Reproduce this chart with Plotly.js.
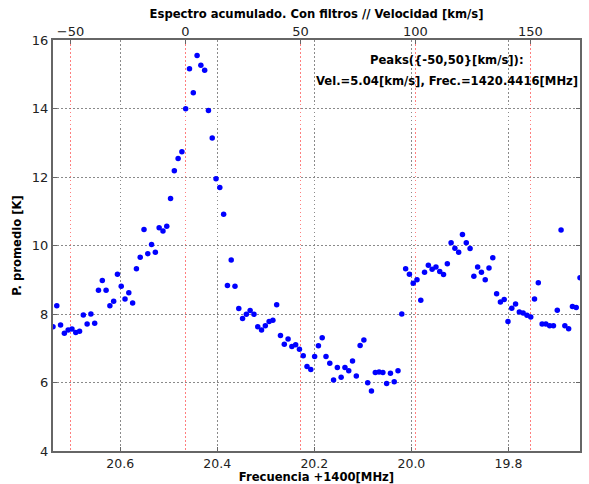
<!DOCTYPE html>
<html>
<head>
<meta charset="utf-8">
<script src="https://cdn.plot.ly/plotly-3.0.1.min.js"></script>
<style>html,body{margin:0;padding:0;background:#fff;}#chart{width:589px;height:484px;}</style>
</head>
<body>
<div id="chart"></div>
<script>
// Frequency (+1400 MHz) of each channel
const freq = [
20.7385,20.7307,20.7229,20.7151,20.7073,20.6994,20.6916,20.6838,20.6760,20.6682,
20.6604,20.6526,20.6448,20.6369,20.6291,20.6213,20.6135,20.6057,20.5979,20.5901,
20.5823,20.5744,20.5666,20.5588,20.5510,20.5432,20.5354,20.5276,20.5198,20.5119,
20.5041,20.4963,20.4885,20.4807,20.4729,20.4651,20.4573,20.4494,20.4416,20.4338,
20.4260,20.4182,20.4104,20.4026,20.3948,20.3869,20.3791,20.3713,20.3635,20.3557,
20.3479,20.3401,20.3323,20.3244,20.3166,20.3088,20.3010,20.2932,20.2854,20.2776,
20.2698,20.2619,20.2541,20.2463,20.2385,20.2307,20.2229,20.2151,20.2073,20.1994,
20.1916,20.1838,20.1760,20.1682,20.1604,20.1526,20.1448,20.1369,20.1291,20.1213,
20.1135,20.1057,20.0979,20.0901,20.0823,20.0744,20.0666,20.0588,20.0510,20.0432,
20.0354,20.0276,20.0198,20.0119,20.0041,19.9963,19.9885,19.9807,19.9729,19.9651,
19.9573,19.9494,19.9416,19.9338,19.9260,19.9182,19.9104,19.9026,19.8948,19.8869,
19.8791,19.8713,19.8635,19.8557,19.8479,19.8401,19.8323,19.8244,19.8166,19.8088,
19.8010,19.7932,19.7854,19.7776,19.7698,19.7619,19.7541,19.7463,19.7385,19.7307,
19.7229,19.7151,19.7073,19.6994,19.6916,19.6838,19.6760,19.6682,19.6604,19.6526
];
// Mean power [K]
const power = [
7.63,8.24,7.68,7.44,7.53,7.56,7.46,7.50,7.97,7.71,
8.00,7.73,8.69,8.98,8.69,8.24,8.37,9.16,8.81,8.44,
8.62,8.32,9.32,9.66,10.47,9.76,10.03,9.80,10.52,10.42,
10.56,11.37,12.18,12.54,12.74,13.99,15.16,14.46,15.55,15.26,
15.12,13.94,13.14,11.95,11.69,10.91,8.83,9.58,8.81,8.16,
7.87,7.99,8.10,7.99,7.63,7.53,7.66,7.78,7.82,8.27,
7.37,7.12,7.27,7.05,7.10,6.97,6.78,6.47,6.38,6.76,
7.07,7.31,6.76,6.56,6.07,6.44,6.15,6.44,6.34,6.63,
6.19,7.08,7.24,5.99,5.75,6.29,6.31,6.29,5.97,6.27,
6.02,6.34,8.00,9.32,9.16,8.90,9.00,8.40,9.22,9.42,
9.31,9.37,9.24,9.15,9.47,10.08,9.92,9.80,10.32,10.08,
9.91,9.10,9.37,9.22,9.00,9.34,9.64,8.59,8.35,8.42,
7.78,8.17,8.29,8.06,8.03,7.96,7.91,8.44,8.91,7.71,
7.71,7.66,7.66,8.11,10.45,7.66,7.57,8.22,8.19,9.06
];
const freqTickVals = [20.6, 20.4, 20.2, 20.0, 19.8];
const freqTickText = ['20.6', '20.4', '20.2', '20.0', '19.8'];
const velTickVals = [-50, 0, 50, 100, 150];
const powerTickVals = [4, 6, 8, 10, 12, 14, 16];
const peakLines = ['Peaks({-50,50}[km/s]):', 'Vel.=5.04[km/s], Frec.=1420.4416[MHz]'];

const FONT = 'DejaVu Sans, sans-serif';
const GRAYDASH = '1.5px,2.5px';

const trace = {
  x: freq, y: power, type: 'scatter', mode: 'markers',
  marker: {color: '#0000ff', size: 5.5, line: {width: 0}},
  xaxis: 'x', yaxis: 'y', hoverinfo: 'skip', cliponaxis: true
};
// invisible helper trace to activate the top velocity axis
const helper = {
  x: [0], y: [10], type: 'scatter', mode: 'markers',
  marker: {opacity: 0}, xaxis: 'x2', yaxis: 'y', hoverinfo: 'skip', showlegend: false
};

const layout = {
  width: 589, height: 484,
  margin: {l: 53, r: 9, t: 40, b: 33},
  paper_bgcolor: '#fff', plot_bgcolor: '#fff',
  showlegend: false,
  font: {family: FONT, size: 13, color: '#000'},
  title: {
    text: '<b>Espectro acumulado. Con filtros // Velocidad [km/s]</b>',
    font: {family: FONT, size: 11.6, color: '#000'},
    xref: 'paper', x: 0.5, xanchor: 'center',
    yref: 'container', y: 1 - 14 / 484, yanchor: 'middle'
  },
  xaxis: {
    range: [20.7385, 19.6526],
    tickvals: freqTickVals, ticktext: freqTickText,
    showgrid: true, gridcolor: '#8a8a8a', griddash: GRAYDASH, gridwidth: 1,
    zeroline: false,
    showline: true, linecolor: '#666', linewidth: 2, mirror: true,
    ticks: 'inside', ticklen: 4, tickcolor: '#666',
    tickfont: {family: FONT, size: 12.5, color: '#222'},
    title: {text: '<b>Frecuencia +1400[MHz]</b>', font: {family: FONT, size: 11.6, color: '#000'}, standoff: 6}
  },
  xaxis2: {
    overlaying: 'x', side: 'top', anchor: 'y',
    range: [-57.6, 171.6],
    tickvals: velTickVals,
    showgrid: true, gridcolor: 'rgba(255,40,40,0.6)', griddash: '1.5px,2.5px', gridwidth: 1,
    zeroline: false,
    showline: false,
    ticks: 'inside', ticklen: 4, tickcolor: '#666',
    tickfont: {family: FONT, size: 13, color: '#222'}
  },
  yaxis: {
    range: [4, 16],
    tickvals: powerTickVals,
    showgrid: true, gridcolor: '#8a8a8a', griddash: GRAYDASH, gridwidth: 1,
    zeroline: false,
    showline: true, linecolor: '#666', linewidth: 2, mirror: 'ticks',
    ticks: 'inside', ticklen: 4, tickcolor: '#666',
    tickfont: {family: FONT, size: 13, color: '#222'},
    title: {text: '<b>P. promedio [K]</b>', font: {family: FONT, size: 11.6, color: '#000'}, standoff: 8}
  },
  annotations: [
    {text: '<b>' + peakLines[0] + '</b>', xref: 'paper', yref: 'paper', x: 0.7484, y: 0.9513,
     xanchor: 'center', yanchor: 'middle', showarrow: false, font: {family: FONT, size: 11.6, color: '#000'}},
    {text: '<b>' + peakLines[1] + '</b>', xref: 'paper', yref: 'paper', x: 0.7484, y: 0.901,
     xanchor: 'center', yanchor: 'middle', showarrow: false, font: {family: FONT, size: 11.6, color: '#000'}}
  ]
};

Plotly.newPlot('chart', [helper, trace], layout, {displayModeBar: false, staticPlot: true});
</script>
</body>
</html>
